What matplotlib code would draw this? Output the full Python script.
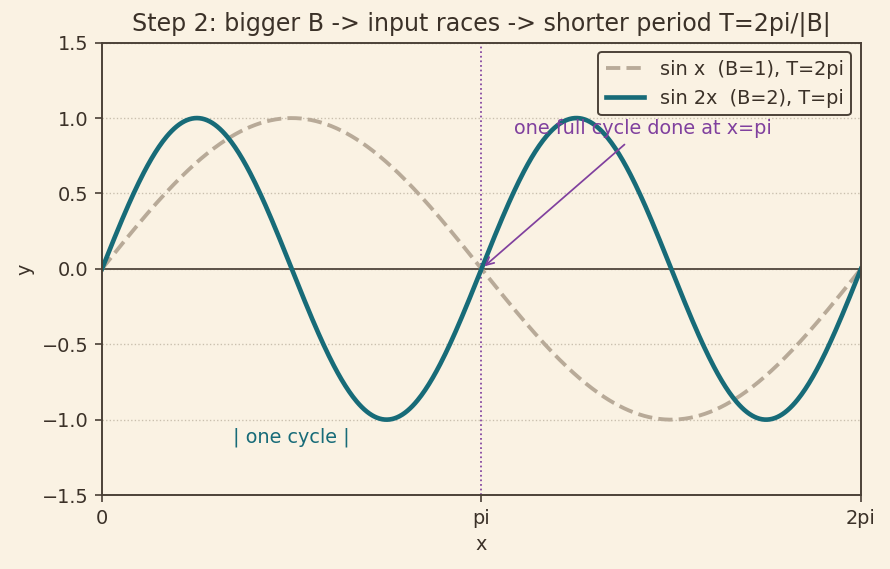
import matplotlib
matplotlib.use("Agg")
import matplotlib.pyplot as plt
import numpy as np

# frequencies of the two curves and their labels
freqs = [1, 2]
labels = ["sin x  (B=1), T=2pi", "sin 2x  (B=2), T=pi"]
tick_pos = [0, np.pi, 2 * np.pi]
tick_labels = ["0", "pi", "2pi"]

bg = "#faf2e3"
ink = "#3b3128"
teal = "#176b78"
tan = "#b8aa98"
purple = "#80409e"

plt.rcParams["font.family"] = "DejaVu Sans"
plt.rcParams["text.color"] = ink
plt.rcParams["axes.labelcolor"] = ink
plt.rcParams["xtick.color"] = ink
plt.rcParams["ytick.color"] = ink

DPI = 139
fig, ax = plt.subplots(figsize=(890 / DPI, 569 / DPI), dpi=DPI)
fig.patch.set_facecolor(bg)
ax.set_facecolor(bg)

x = np.linspace(0, 2 * np.pi, 600)
ax.plot(x, np.sin(freqs[0] * x), color=tan, lw=2.0, ls="--", label=labels[0])
ax.plot(x, np.sin(freqs[1] * x), color=teal, lw=2.4, label=labels[1])

ax.axhline(0, color="#5a5046", lw=1.0, zorder=1)
ax.axvline(np.pi, color=purple, lw=0.9, ls=":", zorder=1)
ax.grid(axis="y", ls=":", color="#c9bfae", lw=0.7)
ax.set_axisbelow(True)

ax.annotate("one full cycle done at x=pi", xy=(np.pi, 0), xytext=(3.41, 0.93),
            color=purple, fontsize=10, va="center",
            arrowprops=dict(arrowstyle="->", color=purple, lw=0.9))
ax.text(np.pi / 2, -1.12, "| one cycle |", color=teal, fontsize=10,
        ha="center", va="center")

ax.set_xlim(0, 2 * np.pi)
ax.set_ylim(-1.5, 1.5)
ax.set_xticks(tick_pos)
ax.set_xticklabels(tick_labels)
ax.set_yticks(np.arange(-1.5, 1.51, 0.5))
ax.tick_params(labelsize=10)
for s in ax.spines.values():
    s.set_color("#4a4036")
    s.set_linewidth(1.0)

ax.set_xlabel("x", fontsize=10)
ax.set_ylabel("y", fontsize=10)
ax.set_title("Step 2: bigger B -> input races -> shorter period T=2pi/|B|", fontsize=12.3)

leg = ax.legend(loc="upper right", fontsize=10, facecolor=bg, edgecolor="#4a4036",
                framealpha=1)
leg.get_frame().set_linewidth(1.0)

fig.subplots_adjust(left=0.1146, right=0.9674, top=0.925, bottom=0.13)
fig.savefig("out.png", dpi=DPI, facecolor=bg)
